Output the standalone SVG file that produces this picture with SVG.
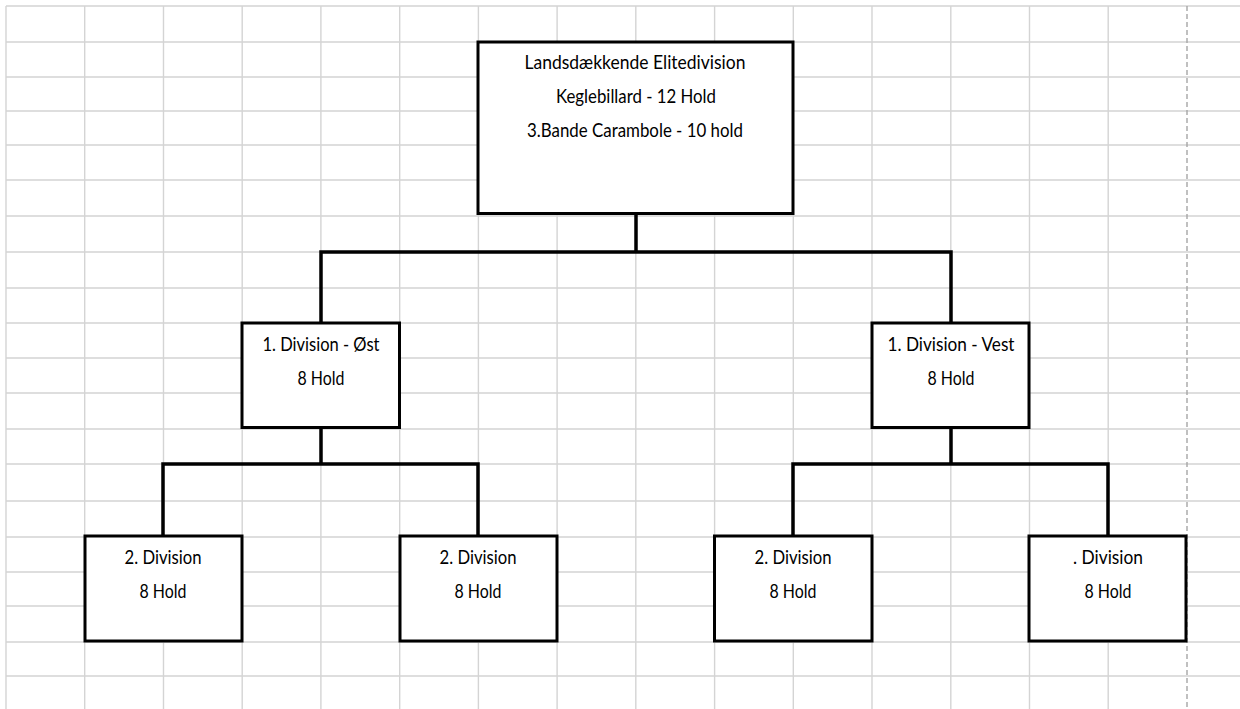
<svg xmlns="http://www.w3.org/2000/svg" width="1240" height="709" viewBox="0 0 1240 709">
<style>
.g{stroke:#d4d4d4;stroke-width:1.4;fill:none}
.pb{stroke:#a6a6a6;stroke-width:1.4;stroke-dasharray:5 3;fill:none}
.box{fill:#ffffff;stroke:#000000;stroke-width:3}
.c{stroke:#000000;stroke-width:3.5;fill:none;stroke-linecap:square}
text{font-family:Lato,"Open Sans","Liberation Sans",sans-serif;font-size:19px;fill:#000000;text-anchor:middle}
</style>
<rect x="0" y="0" width="1240" height="709" fill="#ffffff"/>
<g id="grid">
<path class="g" d="M6 6V709M84.7 6V709M163.5 6V709M242.2 6V709M320.9 6V709M399.7 6V709M478.4 6V709M557.1 6V709M635.8 6V709M714.6 6V709M793.3 6V709M872 6V709M950.8 6V709M1029.5 6V709M1108.2 6V709"/>
<path class="g" d="M6 6H1240M6 42H1240M6 77H1240M6 111H1240M6 145H1240M6 180H1240M6 216H1240M6 252H1240M6 288H1240M6 323H1240M6 358H1240M6 393H1240M6 429H1240M6 464H1240M6 501H1240M6 537H1240M6 572H1240M6 606H1240M6 642H1240M6 676H1240"/>
<path class="pb" d="M1187 6V709"/>
</g>
<g id="connectors">
<path class="c" d="M636 213V252M321 252H951M321 252V323M951 252V323"/>
<path class="c" d="M321 427V464M163 464H478M163 464V536M478 464V536"/>
<path class="c" d="M951 427V464M793 464H1108M793 464V536M1108 464V536"/>
</g>
<g id="elite">
<rect class="box" x="478" y="42" width="315" height="171.5"/>
<text x="635" y="69" textLength="221" lengthAdjust="spacingAndGlyphs">Landsdækkende Elitedivision</text>
<text x="636" y="103" textLength="160" lengthAdjust="spacingAndGlyphs">Keglebillard - 12 Hold</text>
<text x="635" y="137" textLength="216" lengthAdjust="spacingAndGlyphs">3.Bande Carambole - 10 hold</text>
</g>
<g id="div1-ost">
<rect class="box" x="242" y="323" width="157.5" height="104.5"/>
<text x="321" y="351" textLength="117" lengthAdjust="spacingAndGlyphs">1. Division - Øst</text>
<text x="321" y="385" textLength="47" lengthAdjust="spacingAndGlyphs">8 Hold</text>
</g>
<g id="div1-vest">
<rect class="box" x="872" y="323" width="157" height="104.5"/>
<text x="951" y="351" textLength="127" lengthAdjust="spacingAndGlyphs">1. Division - Vest</text>
<text x="951" y="385" textLength="47" lengthAdjust="spacingAndGlyphs">8 Hold</text>
</g>
<g id="div2-a">
<rect class="box" x="85" y="536" width="157" height="105"/>
<text x="163" y="564" textLength="77" lengthAdjust="spacingAndGlyphs">2. Division</text>
<text x="163" y="598" textLength="47" lengthAdjust="spacingAndGlyphs">8 Hold</text>
</g>
<g id="div2-b">
<rect class="box" x="400" y="536" width="157" height="105"/>
<text x="478" y="564" textLength="77" lengthAdjust="spacingAndGlyphs">2. Division</text>
<text x="478" y="598" textLength="47" lengthAdjust="spacingAndGlyphs">8 Hold</text>
</g>
<g id="div2-c">
<rect class="box" x="714.5" y="536" width="157.5" height="105"/>
<text x="793" y="564" textLength="77" lengthAdjust="spacingAndGlyphs">2. Division</text>
<text x="793" y="598" textLength="47" lengthAdjust="spacingAndGlyphs">8 Hold</text>
</g>
<g id="div2-d">
<rect class="box" x="1029" y="536" width="157" height="105"/>
<text x="1108" y="564" textLength="70" lengthAdjust="spacingAndGlyphs">. Division</text>
<text x="1108" y="598" textLength="47" lengthAdjust="spacingAndGlyphs">8 Hold</text>
</g>
</svg>
